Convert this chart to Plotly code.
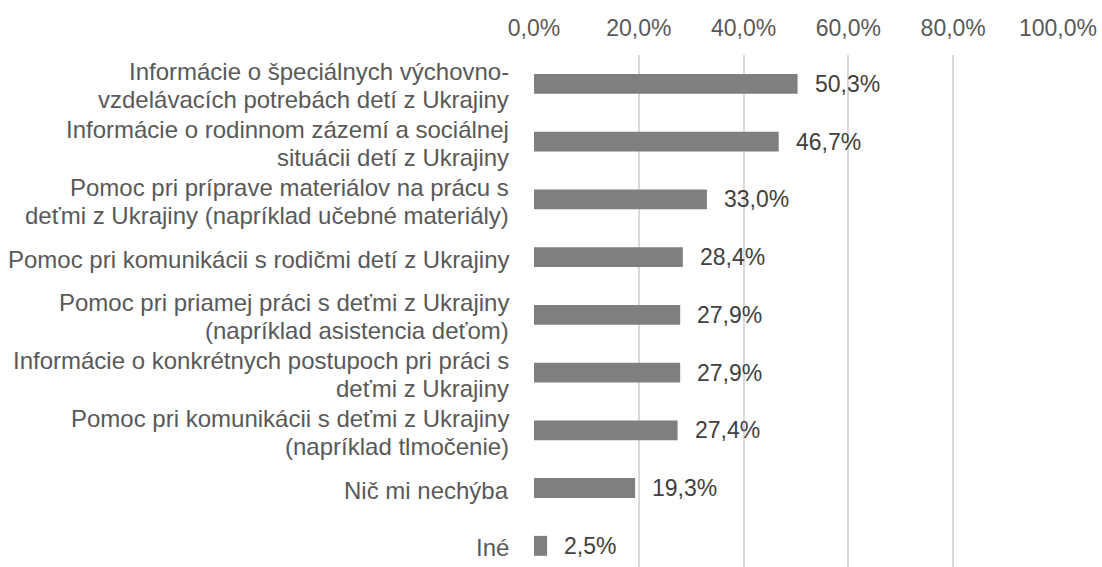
import plotly.graph_objects as go

categories = [
    "Informácie o špeciálnych výchovno-<br>vzdelávacích potrebách detí z Ukrajiny",
    "Informácie o rodinnom zázemí a sociálnej<br>situácii detí z Ukrajiny",
    "Pomoc pri príprave materiálov na prácu s<br>deťmi z Ukrajiny (napríklad učebné materiály)",
    "Pomoc pri komunikácii s rodičmi detí z Ukrajiny",
    "Pomoc pri priamej práci s deťmi z Ukrajiny<br>(napríklad asistencia deťom)",
    "Informácie o konkrétnych postupoch pri práci s<br>deťmi z Ukrajiny",
    "Pomoc pri komunikácii s deťmi z Ukrajiny<br>(napríklad tlmočenie)",
    "Nič mi nechýba",
    "Iné",
]
values = [50.3, 46.7, 33.0, 28.4, 27.9, 27.9, 27.4, 19.3, 2.5]
value_labels = [f"{v:.1f}%".replace(".", ",") for v in values]
tick_vals = [0, 20, 40, 60, 80, 100]
tick_text = [f"{t:.1f}%".replace(".", ",") for t in tick_vals]

FONT = "Liberation Sans, Arial, sans-serif"
FS = 23
CAT_FS = 24
LINE_GAP = 28

fig = go.Figure()
fig.add_trace(go.Bar(
    x=values, y=categories, orientation="h",
    marker=dict(color="#7f7f7f", line=dict(width=0)),
    width=0.346, hoverinfo="skip",
))
for c, v, t in zip(categories, values, value_labels):
    fig.add_annotation(x=v, y=c, text=t, showarrow=False, xanchor="left",
                       xshift=15, font=dict(family=FONT, size=FS, color="#404040"))
    # category label, one annotation per line for tighter line spacing
    lines = c.split("<br>")
    n = len(lines)
    for i, ln in enumerate(lines):
        fig.add_annotation(x=0, xref="paper", y=c, text=ln, showarrow=False,
                           xanchor="right", yanchor="middle", xshift=-23,
                           yshift=((n - 1) / 2 - i) * LINE_GAP - 2,
                           font=dict(family=FONT, size=CAT_FS, color="#595959"))

fig.update_layout(
    width=1102, height=567,
    margin=dict(l=534, r=44, t=55, b=0, autoexpand=False),
    paper_bgcolor="white", plot_bgcolor="white",
    showlegend=False,
    font=dict(family=FONT, size=FS, color="#595959"),
    xaxis=dict(
        side="top", range=[0, 100], tickvals=tick_vals, ticktext=tick_text,
        showgrid=True, gridcolor="#d9d9d9", gridwidth=1.5, zeroline=False,
        showline=False, ticks="", ticklabelstandoff=13, automargin=False,
        tickfont=dict(family=FONT, size=FS, color="#595959"),
    ),
    yaxis=dict(
        range=[8.366, -0.5], type="category", automargin=False,
        showgrid=False, zeroline=False, showline=False, ticks="",
        showticklabels=False,
    ),
)
fig.write_html(
    "out.html",
    config={"displayModeBar": False},
    post_script="document.body.style.margin='0';document.body.style.overflow='hidden';",
)
